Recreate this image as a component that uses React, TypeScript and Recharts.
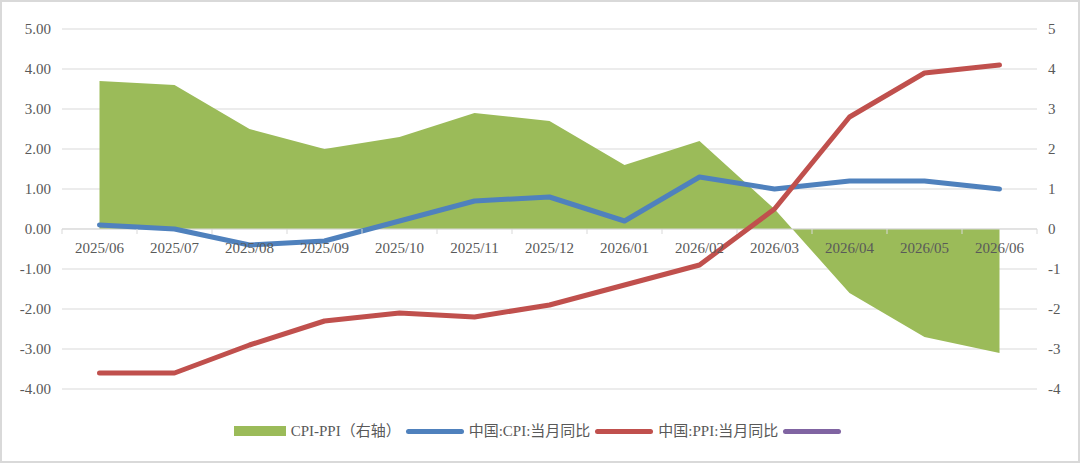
import React from "react"
import {
    Area,
    CartesianGrid,
    ComposedChart,
    Legend,
    Line,
    ReferenceLine,
    XAxis,
    YAxis,
} from "recharts"

const months = [
    "2025/06", "2025/07", "2025/08", "2025/09", "2025/10", "2025/11", "2025/12",
    "2026/01", "2026/02", "2026/03", "2026/04", "2026/05", "2026/06",
]
const cpi = [0.1, 0.0, -0.4, -0.3, 0.2, 0.7, 0.8, 0.2, 1.3, 1.0, 1.2, 1.2, 1.0]
const ppi = [-3.6, -3.6, -2.9, -2.3, -2.1, -2.2, -1.9, -1.4, -0.9, 0.5, 2.8, 3.9, 4.1]
const spread = [3.7, 3.6, 2.5, 2.0, 2.3, 2.9, 2.7, 1.6, 2.2, 0.5, -1.6, -2.7, -3.1]
const yTicks = [-4, -3, -2, -1, 0, 1, 2, 3, 4, 5]
const legendOrder = ["spread", "cpi", "ppi", "blank"]

const data = months.map((m, i) => ({ month: m, cpi: cpi[i], ppi: ppi[i], spread: spread[i] }))

const WIDTH = 1080
const HEIGHT = 463
const MARGIN = { top: 29, right: 0, bottom: 0, left: 0 }
const LEFT_W = 62
const RIGHT_W = 43
const LEGEND_H = 73
const PLOT_W = WIDTH - LEFT_W - RIGHT_W
const PLOT_H = HEIGHT - MARGIN.top - 1 - LEGEND_H
const BAND = PLOT_W / months.length
const Y_MIN = -4
const Y_MAX = 5
// distance from the plot bottom up to the zero line, where the category axis crosses
const ZERO_UP = (PLOT_H * (0 - Y_MIN)) / (Y_MAX - Y_MIN)

const FONT = '"Times New Roman", "Liberation Serif", "Noto Sans CJK SC", serif'
const TEXT = "#595959"
const GRID = "#d9d9d9"

function CategoryTick(props: any) {
    const { x, y, payload, index } = props
    const y0 = y - ZERO_UP
    return (
        <g>
            <line x1={x - BAND / 2} y1={y0} x2={x - BAND / 2} y2={y0 + 5} stroke={GRID} />
            {index === months.length - 1 && (
                <line x1={x + BAND / 2} y1={y0} x2={x + BAND / 2} y2={y0 + 5} stroke={GRID} />
            )}
            <text x={x} y={y0 + 24} textAnchor="middle" fill={TEXT} fontSize={15} fontFamily={FONT}>
                {payload.value}
            </text>
        </g>
    )
}

function LegendContent({ payload }: { payload?: any[] }) {
    const items = [...(payload ?? [])].sort(
        (a, b) => legendOrder.indexOf(a.dataKey) - legendOrder.indexOf(b.dataKey)
    )
    return (
        <div style={{ height: LEGEND_H, boxSizing: "border-box", paddingTop: 33 }}>
            <div
                style={{
                    height: 16,
                    display: "flex",
                    alignItems: "center",
                    justifyContent: "center",
                    fontFamily: FONT,
                    fontSize: 15,
                    color: TEXT,
                    whiteSpace: "nowrap",
                }}
            >
                {items.map((entry, i) => (
                    <div key={i} style={{ display: "flex", alignItems: "center", marginRight: 5 }}>
                        {entry.type === "rect" ? (
                            <span style={{ width: 52, height: 10, background: entry.color, display: "inline-block" }} />
                        ) : (
                            <span
                                style={{
                                    width: 58,
                                    height: 5,
                                    borderRadius: 3,
                                    background: entry.color,
                                    display: "inline-block",
                                }}
                            />
                        )}
                        {entry.dataKey !== "blank" && (
                            <span style={{ marginLeft: 5, lineHeight: "16px" }}>{entry.value}</span>
                        )}
                    </div>
                ))}
            </div>
        </div>
    )
}

export default function App() {
    return (
        <div style={{ position: "absolute", left: 0, top: 0, width: WIDTH, height: HEIGHT, background: "#fff" }}>
            <ComposedChart width={WIDTH} height={HEIGHT} data={data} margin={MARGIN}>
                <CartesianGrid yAxisId="left" vertical={false} stroke={GRID} />
                <XAxis
                    dataKey="month"
                    height={1}
                    interval={0}
                    padding={{ left: BAND / 2, right: BAND / 2 }}
                    axisLine={false}
                    tickLine={false}
                    tickSize={0}
                    tickMargin={0}
                    tick={<CategoryTick />}
                />
                <YAxis
                    yAxisId="left"
                    domain={[Y_MIN, Y_MAX]}
                    ticks={yTicks}
                    width={LEFT_W}
                    axisLine={false}
                    tickLine={false}
                    tickSize={0}
                    tickMargin={11}
                    tickFormatter={(v: number) => v.toFixed(2)}
                    tick={{ fill: TEXT, fontSize: 15, fontFamily: FONT }}
                />
                <YAxis
                    yAxisId="right"
                    orientation="right"
                    domain={[Y_MIN, Y_MAX]}
                    ticks={yTicks}
                    width={RIGHT_W}
                    axisLine={false}
                    tickLine={false}
                    tickSize={0}
                    tickMargin={11}
                    tick={{ fill: TEXT, fontSize: 15, fontFamily: FONT }}
                />
                <ReferenceLine yAxisId="left" y={0} stroke={GRID} />
                <Area
                    yAxisId="right"
                    type="linear"
                    dataKey="spread"
                    name="CPI-PPI（右轴）"
                    stroke="none"
                    fill="#9BBB59"
                    fillOpacity={1}
                    legendType="rect"
                    isAnimationActive={false}
                />
                <Line
                    yAxisId="left"
                    type="linear"
                    dataKey="cpi"
                    name="中国:CPI:当月同比"
                    stroke="#4F81BD"
                    strokeWidth={5}
                    strokeLinecap="round"
                    strokeLinejoin="round"
                    dot={false}
                    activeDot={false}
                    isAnimationActive={false}
                />
                <Line
                    yAxisId="left"
                    type="linear"
                    dataKey="ppi"
                    name="中国:PPI:当月同比"
                    stroke="#C0504D"
                    strokeWidth={5}
                    strokeLinecap="round"
                    strokeLinejoin="round"
                    dot={false}
                    activeDot={false}
                    isAnimationActive={false}
                />
                <Line
                    yAxisId="left"
                    type="linear"
                    dataKey="blank"
                    name=""
                    stroke="#8064A2"
                    strokeWidth={5}
                    dot={false}
                    activeDot={false}
                    isAnimationActive={false}
                />
                <Legend verticalAlign="bottom" content={<LegendContent />} />
            </ComposedChart>
            <div
                style={{
                    position: "absolute",
                    inset: 0,
                    border: `2px solid ${GRID}`,
                    pointerEvents: "none",
                }}
            />
        </div>
    )
}
